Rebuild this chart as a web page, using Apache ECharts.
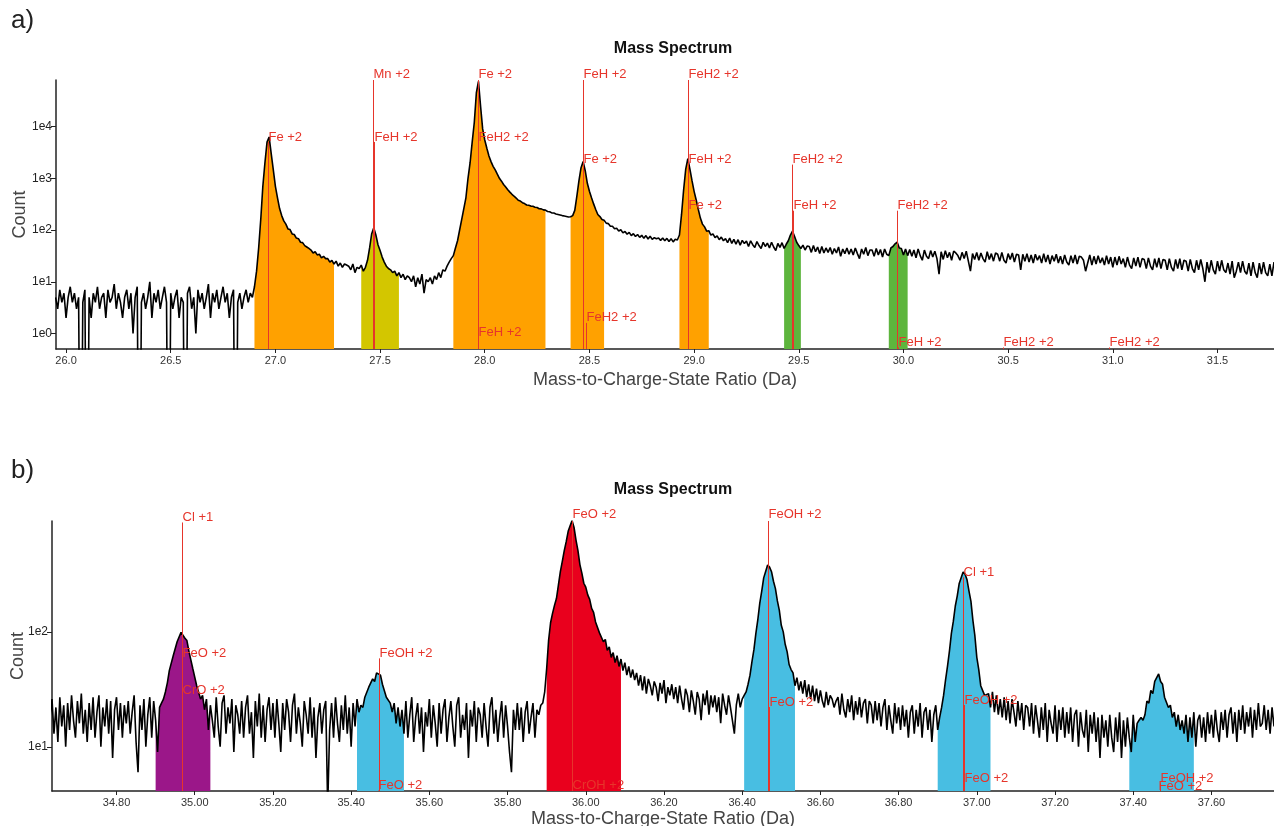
<!DOCTYPE html>
<html><head><meta charset="utf-8">
<script src="https://cdn.jsdelivr.net/npm/echarts@6/dist/echarts.min.js"></script>
<style>html,body{margin:0;padding:0;background:#fff}#c{width:1274px;height:826px}</style>
</head><body><div id="c"></div>
<script>
// ---------- data (counts) ----------
const topStart = 25.95, topStep = 0.01;
const topCounts = [
5,3,7,4,6,2,5,8,4,6,
3,5,0,4,7,0,5,2,6,4,
8,3,5,6,2,7,4,5,9,3,
6,4,2,5,7,3,6,1,5,8,
0,4,6,3,5,10,2,6,4,7,
3,5,8,4,0,6,3,5,7,2,
5,4,0,6,8,3,5,1,7,4,
6,3,5,9,2,6,4,7,3,5,
8,4,6,2,5,7,0,4,6,3,
5,7,4,6,5,8,16,45,160,700,
2000,5000,6300,3000,1450,700,420,260,190,150,
130,105,102,84,82,70,68,58,57,50,
47,44,41,36,38,33,34,29,31,28,
28,24,26,22,25,20,23,19,22,21,
20,17,22,15,19,18,21,16,19,26,
45,85,110,80,52,40,30,24,20,18,
17,15,16,13,15,12,14,11,13,12,
10,13,8,12,9,14,6,11,10,12,
9,13,11,15,12,17,16,20,24,28,
32,45,62,100,160,260,420,1000,2000,5000,
12000,45000,75000,25000,9000,5500,3800,2700,2100,1700,
1450,1200,1000,880,760,680,600,540,490,450,
415,375,362,338,325,305,302,290,288,276,
272,258,256,245,242,228,226,214,213,204,
200,195,190,186,182,178,180,190,240,450,
900,1600,2100,1400,800,560,420,320,250,200,
182,160,154,136,133,118,118,106,108,96,
101,88,94,83,90,78,85,75,82,72,
79,69,78,67,76,66,71,68,70,63,
70,62,69,60,68,59,66,64,80,200,
600,1500,2400,1500,900,560,380,250,170,130,
115,95,97,80,84,71,77,65,73,62,
68,57,70,55,66,53,65,51,63,55,
61,48,62,52,46,60,50,44,58,48,
56,45,58,47,40,55,46,57,44,53,
62,80,95,75,58,50,44,51,41,49,
48,37,50,38,47,35,48,36,45,37,
46,34,44,36,47,31,43,35,45,34,
43,33,45,35,28,43,34,46,32,41,
41,31,44,33,42,30,43,34,32,45,
48,54,58,45,44,33,43,32,42,31,
41,29,43,32,26,41,31,28,40,30,
39,28,14,38,27,40,29,37,26,39,
36,32,26,37,28,39,25,16,35,27,
37,26,36,28,24,38,27,35,25,36,
34,25,37,26,23,35,27,36,24,34,
33,17,34,25,35,24,33,23,34,26,
32,23,35,24,33,22,32,25,34,23,
31,22,33,24,21,32,23,33,22,31,
30,26,16,23,33,21,31,22,32,23,
29,21,32,22,30,19,30,21,31,22,
28,19,30,21,18,29,20,30,19,28,
27,18,29,20,17,28,19,29,18,27,
26,17,28,19,16,27,18,28,17,26,
25,16,27,18,15,26,17,27,18,10,
24,15,26,17,14,25,16,26,17,15,
23,14,25,12,16,24,15,25,16,14,
23,13,24,15,12,23,14,24,15,13,
22,13,24,15,23,14,22,13,23,15
];
const bottomStart = 34.63, bottomStep = 0.005;
const bottomCounts = [
18,26,13,22,11,27,15,23,10,24,14,28,17,12,25,16,29,13,21,11,
24,14,27,12,20,28,10,22,15,26,13,25,8,21,27,14,24,12,23,16,
25,13,20,28,11,6,23,14,26,10,19,27,12,25,17,9,22,24,26,30,
36,46,45,62,60,82,84,99,100,88,84,68,66,48,47,34,35,26,28,21,
26,14,23,17,12,27,15,10,24,28,13,22,16,26,9,23,19,13,25,12,
22,28,13,20,8,25,15,29,12,23,11,21,27,14,24,12,26,16,9,24,
14,26,20,11,23,29,13,22,16,10,25,19,13,27,12,22,8,18,24,13,
21,25,3,14,24,12,27,16,11,23,14,28,13,22,10,24,15,26,20,23,
22,27,26,33,32,39,37,44,44,42,35,34,27,28,24,20,24,16,22,15,
21,13,25,12,19,27,11,18,24,13,22,9,20,15,26,12,23,16,10,24,
13,21,26,11,18,25,15,10,23,27,12,19,14,24,8,21,15,25,11,22,
19,12,24,15,10,22,27,13,21,11,18,25,12,23,15,9,6,21,14,24,
14,22,11,20,25,13,18,24,12,21,19,23,24,30,48,85,120,145,170,195,
255,335,410,510,610,750,840,930,810,630,510,385,325,265,245,210,192,160,148,122,
118,98,100,82,86,69,74,60,66,54,62,50,58,46,54,42,50,40,47,38,
44,34,42,31,41,29,39,34,28,37,33,25,36,29,38,24,33,28,35,26,
33,24,34,26,21,32,28,20,31,25,19,30,26,17,29,23,31,19,28,22,
28,20,27,16,29,23,19,28,22,17,13,23,29,22,26,28,30,35,42,55,
70,97,128,178,226,295,336,382,366,334,276,238,186,154,114,100,78,67,52,47,
44,34,40,31,37,29,38,27,35,26,34,25,32,24,31,25,22,30,23,28,
26,22,25,27,19,29,21,18,26,20,28,17,25,19,27,18,24,26,16,25,
23,16,25,17,24,15,22,26,14,23,17,13,24,16,22,14,23,15,21,12,
20,23,13,21,15,24,12,20,22,14,21,11,19,23,14,18,22,28,38,50,
68,97,124,168,206,264,296,332,318,284,226,184,126,93,60,47,34,33,28,29,
29,22,30,20,28,19,26,18,27,17,25,16,26,20,15,25,17,24,14,23,
22,15,24,13,23,17,12,22,14,24,11,21,16,13,23,11,21,14,22,12,
20,13,22,11,19,21,10,20,14,12,21,9,19,13,20,11,18,8,19,12,
17,10,19,12,9,18,11,20,8,17,10,18,12,9,19,11,16,17,18,17,
19,25,24,31,29,37,38,43,37,35,27,28,22,23,18,20,15,19,14,17,
13,19,11,18,12,20,10,17,19,12,18,11,20,13,19,12,21,14,11,20,
14,21,12,19,22,13,20,11,21,14,23,13,20,15,22,12,21,14,24,15,
16,23,14,21,13,22,15,24,14,21,16,22,15,21,14,23,16,22,15,21
];
const topXTicks = [26.0,26.5,27.0,27.5,28.0,28.5,29.0,29.5,30.0,30.5,31.0,31.5];
const bottomXTicks = [34.8,35.0,35.2,35.4,35.6,35.8,36.0,36.2,36.4,36.6,36.8,37.0,37.2,37.4,37.6];
const topYTickExp = [0,1,2,3,4];
const bottomYTickExp = [1,2];

const topRegionFrom = [26.892,27.404,27.847,28.408,28.921,29.426,29.929];
const topRegionTo   = [27.285,27.590,28.296,28.577,29.072,29.510,30.022];
const topRegionIon  = ['Fe','Mn','Fe','Fe','Fe','FeH','FeH'];
const bottomRegionFrom = [34.900,35.414,35.897,36.404,36.898,37.386];
const bottomRegionTo   = [35.042,35.536,36.090,36.538,37.037,37.555];
const bottomRegionIon  = ['CrO','FeOH','FeO','FeOH','FeOH','FeOH'];

const topLabelX = [26.966,27.468,27.471,27.968,27.970,27.970,28.470,28.470,28.486,28.972,28.972,28.972,29.470,29.471,29.970,29.975,30.476,30.980];
const topLabelLevel = [6300,100000,6300,100000,6300,1.05,100000,2300,2.0,100000,2300,295,2300,295,295,0.67,0.67,0.67];
const topLabelText = ['Fe +2','Mn +2','FeH +2','Fe +2','FeH2 +2','FeH +2','FeH +2','Fe +2','FeH2 +2','FeH2 +2','FeH +2','Fe +2','FeH2 +2','FeH +2','FeH2 +2','FeH +2','FeH2 +2','FeH2 +2'];
const bottomLabelX = [34.967,34.968,34.968,35.470,35.469,35.964,35.966,36.467,36.468,36.965,36.966,36.966,37.468,37.463];
const bottomLabelLevel = [990,65,31,65,4.6,1050,4.6,1050,24.5,330,25.5,5.3,5.3,4.55];
const bottomLabelText = ['Cl +1','FeO +2','CrO +2','FeOH +2','FeO +2','FeO +2','CrOH +2','FeOH +2','FeO +2','Cl +1','FeOH +2','FeO +2','FeOH +2','FeO +2'];

// ---------- styles ----------
const ionColor = {Fe:'#FFA100', Mn:'#D3C600', FeH:'#5DB53D', CrO:'#9B1789', FeO:'#E9001D', FeOH:'#48BEE2'};
const RED = '#E6352B';
const FONT = '"Liberation Sans", Arial, sans-serif';

function toLog(c){ return c > 0 ? Math.log10(c) : -5; }
function points(start, step, counts){ return counts.map((c,i)=>[+(start+i*step).toFixed(4), toLog(c)]); }
const topPts = points(topStart, topStep, topCounts);
const bottomPts = points(bottomStart, bottomStep, bottomCounts);

function minorTicks(lo, hi){
  const out = [];
  for (let n = Math.floor(lo)-1; n <= Math.ceil(hi); n++)
    for (let k = 2; k <= 9; k++) { const v = n + Math.log10(k); if (v > lo && v < hi) out.push(v); }
  return out;
}

const TOPY = [-0.3, 4.9], BOTY = [0.615, 2.965];

function regionSeries(pts, from, to, ion, xi, yi){
  return from.map((a,i)=>({
    type:'line', xAxisIndex:xi, yAxisIndex:yi, silent:true, symbol:'none', z:1,
    data: pts.filter(p=>p[0] >= a - 1e-9 && p[0] <= to[i] + 1e-9),
    lineStyle:{width:0}, itemStyle:{color:ionColor[ion[i]]},
    areaStyle:{color:ionColor[ion[i]], opacity:1, origin:'start'}
  }));
}
function labelSeries(xs, levels, texts, xi, yi){
  return {
    type:'custom', xAxisIndex:xi, yAxisIndex:yi, clip:false, silent:true, z:5,
    data: xs.map((x,i)=>[x, Math.log10(levels[i])]),
    renderItem: (params, api) => {
      const i = params.dataIndex;
      const p = api.coord([api.value(0), api.value(1)]);
      const cs = params.coordSys;
      const bottom = cs.y + cs.height;
      const top = Math.max(cs.y, p[1] + 5);
      const x = Math.round(p[0]) + 0.5;
      const children = [];
      if (top < bottom) children.push({type:'line', shape:{x1:x, y1:top, x2:x, y2:bottom}, style:{stroke:RED, lineWidth:1}});
      children.push({type:'text', x:x, y:p[1], style:{text:texts[i], fill:RED, font:'13px '+FONT, align:'left', verticalAlign:'middle'}});
      return {type:'group', children};
    }
  };
}
function xAxis(gi, min, max, ticks, digits){
  return {type:'value', gridIndex:gi, min, max,
    axisLine:{show:true, onZero:false, lineStyle:{color:'#222', width:1.5}},
    axisTick:{show:true, customValues:ticks, length:4, lineStyle:{color:'#222'}},
    axisLabel:{customValues:ticks, formatter:v=>v.toFixed(digits), color:'#333', fontSize:11, margin:6, fontFamily:FONT},
    splitLine:{show:false},
    name:'Mass-to-Charge-State Ratio (Da)', nameLocation:'middle', nameGap: gi===0?22:19, nameMoveOverlap:false,
    nameTextStyle:{fontSize:18, color:'#444', fontFamily:FONT}};
}
function yAxis(gi, ext, exps, gap){
  return {type:'value', gridIndex:gi, min:ext[0], max:ext[1],
    axisLine:{show:true, onZero:false, lineStyle:{color:'#222', width:1.5}},
    axisTick:{show:true, customValues:exps, length:5, lineStyle:{color:'#222'}},
    axisLabel:{customValues:exps, formatter:v=>'1e'+Math.round(v), color:'#222', fontSize:12, margin:4, fontFamily:FONT},
    splitLine:{show:false},
    name:'Count', nameLocation:'middle', nameGap:gap, nameRotate:90, nameMoveOverlap:false,
    nameTextStyle:{fontSize:18, color:'#444', fontFamily:FONT}};
}
function yMinor(gi, ext){
  return {type:'value', gridIndex:gi, min:ext[0], max:ext[1],
    axisLine:{show:false}, axisLabel:{show:false}, splitLine:{show:false},
    axisTick:{show:true, customValues:minorTicks(ext[0], ext[1]), length:3, lineStyle:{color:'#222'}}};
}

const chart = echarts.init(document.getElementById('c'), null, {renderer:'canvas'});
chart.setOption({
  animation:false,
  backgroundColor:'#fff',
  title:[
    {text:'Mass Spectrum', left:668, top:36, textAlign:'center', textStyle:{fontSize:16, fontWeight:'bold', color:'#111', fontFamily:FONT}},
    {text:'Mass Spectrum', left:668, top:477, textAlign:'center', textStyle:{fontSize:16, fontWeight:'bold', color:'#111', fontFamily:FONT}}
  ],
  graphic:[
    {type:'text', left:11, top:8, style:{text:'a)', font:'26px '+FONT, fill:'#222'}},
    {type:'text', left:11, top:458, style:{text:'b)', font:'26px '+FONT, fill:'#222'}}
  ],
  grid:[
    {left:56, right:0, top:80, height:269, containLabel:false, outerBoundsMode:'none'},
    {left:52, right:0, top:521, height:270, containLabel:false, outerBoundsMode:'none'}
  ],
  xAxis:[ xAxis(0, 25.952, 31.77, topXTicks, 1), xAxis(1, 34.635, 37.76, bottomXTicks, 2) ],
  yAxis:[ yAxis(0, TOPY, topYTickExp, 27), yMinor(0, TOPY), yAxis(1, BOTY, bottomYTickExp, 25), yMinor(1, BOTY) ],
  series:[].concat(
    regionSeries(topPts, topRegionFrom, topRegionTo, topRegionIon, 0, 0),
    regionSeries(bottomPts, bottomRegionFrom, bottomRegionTo, bottomRegionIon, 1, 2),
    [
      {type:'line', xAxisIndex:0, yAxisIndex:0, data:topPts, symbol:'none', silent:true, z:3, lineStyle:{color:'#000', width:1.6}},
      {type:'line', xAxisIndex:1, yAxisIndex:2, data:bottomPts, symbol:'none', silent:true, z:3, lineStyle:{color:'#000', width:1.6}},
      labelSeries(topLabelX, topLabelLevel, topLabelText, 0, 0),
      labelSeries(bottomLabelX, bottomLabelLevel, bottomLabelText, 1, 2)
    ]
  )
});
</script></body></html>
